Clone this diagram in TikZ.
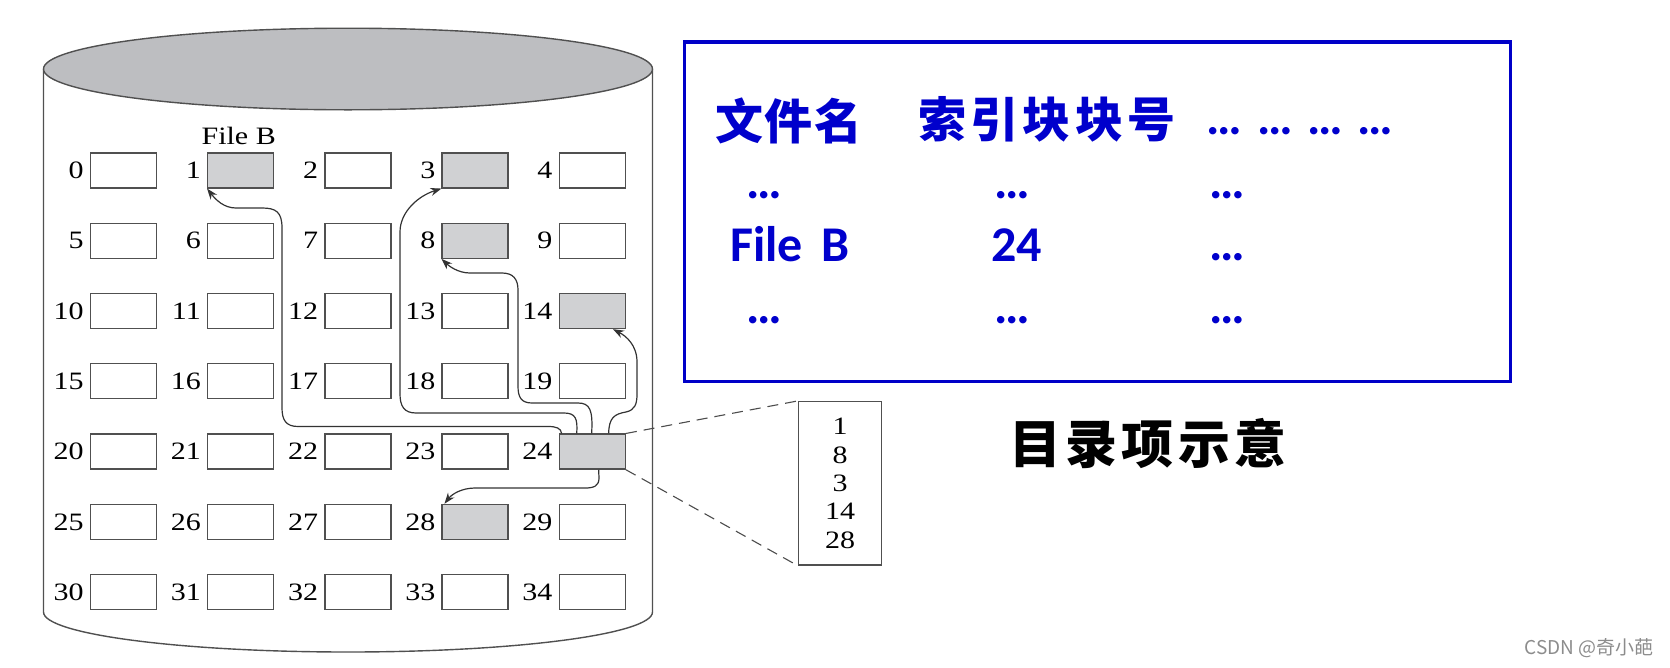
\documentclass[tikz,border=0pt]{standalone}
\usepackage{fontspec}
\setmainfont{Liberation Serif}
\newfontfamily\tnum[FakeStretch=1.2]{Liberation Serif}
\newfontfamily\calib{Carlito}
\newfontfamily\calibw[WordSpace=1.3]{Carlito}
\newfontfamily\cjk{Noto Sans CJK SC}
\newfontfamily\cjkls[LetterSpace=8]{Noto Sans CJK SC}
\usetikzlibrary{arrows.meta,calc}
\definecolor{panelblue}{RGB}{0,0,200}
\definecolor{textblue}{RGB}{0,0,204}
\definecolor{topgray}{RGB}{189,190,193}
\definecolor{blkgray}{RGB}{208,209,211}
\definecolor{edgegray}{RGB}{80,80,80}
\definecolor{wmgray}{RGB}{140,140,140}
\begin{document}
\begin{tikzpicture}[x=1pt,y=-1pt,
  blk/.style={draw=edgegray, line width=1.3pt, minimum width=66pt, minimum height=35pt, inner sep=0pt, fill=white},
  used/.style={blk, fill=blkgray},
  num/.style={anchor=east, inner sep=0pt, font=\tnum\fontsize{25}{28}\selectfont, text=black},
  conn/.style={draw=black!80, line width=1.2pt, -{Stealth[length=11pt,width=8pt]}},
  zoomline/.style={draw=black!70, line width=1.1pt, dash pattern=on 11pt off 7pt},
  ptext/.style={text=textblue, inner sep=0pt},
  dotsf/.style={ptext, anchor=base, font=\calib\bfseries\fontsize{50}{50}\selectfont},
  cjkh/.style={ptext, font=\cjk\bfseries\fontsize{48}{48}\selectfont},
]
\useasboundingbox (0,0) rectangle (1670,667);

% cylinder
\draw[draw=edgegray, line width=1.4pt] (43.5,69) -- (43.5,612)
  .. controls (43.5,634.1) and (179.8,652) .. (348,652)
  .. controls (516.2,652) and (652.5,634.1) .. (652.5,612) -- (652.5,69);
\draw[draw=edgegray, line width=1.4pt, fill=topgray] (348,69) ellipse [x radius=304.5, y radius=40.8];

% blocks
\foreach \r in {0,...,6} {
  \foreach \c in {0,...,4} {
    \pgfmathtruncatemacro\k{5*\r+\c}
    \pgfmathtruncatemacro\isused{(\k==1)||(\k==3)||(\k==8)||(\k==14)||(\k==24)||(\k==28)}
    \ifnum\isused=1 \def\st{used}\else\def\st{blk}\fi
    \node[\st] (b\k) at ({123.5+117.2*\c},{170.4+70.3*\r}) {};
    \node[num] (n\k) at ($(b\k.west)+(-6,0)$) {\k};
  }
}
\node[anchor=base, inner sep=0pt, font=\tnum\fontsize{25}{28}\selectfont] (fileB) at ($(b1.north)+(-2,-8)$) {File B};

% index block
\node[draw=edgegray, line width=1.3pt, minimum width=83pt, minimum height=163.5pt, inner sep=0pt,
      align=center, font=\tnum\fontsize{25}{28.3}\selectfont] (idx) at (840,483.3) {1\\8\\3\\14\\28};
\draw[zoomline] (b24.north east) -- (idx.north west);
\draw[zoomline] (b24.south east) -- (idx.south west);

% connectors
\draw[conn] ($(b24.north west)+(3,0)$) .. controls (561,428) and (556,426.5) .. (548,426.5)
  -- (298,426.5) .. controls (286,426.5) and (282,420) .. (282,408)
  -- (282,228) .. controls (282,212) and (276,208) .. (262,208)
  -- (236,208) .. controls (224,208) and (216,200) .. (b1.south west);
\draw[conn] ($(b24.north west)+(18,0)$) .. controls (578,418) and (575,413) .. (564,413)
  -- (416,413) .. controls (404,413) and (400,406) .. (400,394)
  -- (400,232) .. controls (400,212) and (418,196) .. (b3.south west);
\draw[conn] ($(b24.north west)+(33,0)$) .. controls (593,410) and (590,403) .. (578,403)
  -- (532,403) .. controls (521,403) and (518,397) .. (518,386)
  -- (518,290) .. controls (518,279) and (513,273) .. (502,273)
  -- (470,273) .. controls (458,273) and (449,266) .. (b8.south west);
\draw[conn] ($(b24.north west)+(50,0)$) .. controls (609,418) and (614,414) .. (626,412)
  .. controls (635,410) and (637,404) .. (637,394)
  -- (637,362) .. controls (637,345) and (626,336) .. ($(b14.south east)+(-13,0)$);
\draw[conn] ($(b24.south west)+(40,0)$) -- (599,478) .. controls (599,486) and (594,488) .. (585,488)
  -- (475,488) .. controls (462,488) and (452,494) .. ($(b28.north west)+(3,0)$);

% directory panel
\node[draw=panelblue, line width=3.5pt, minimum width=826pt, minimum height=339.5pt, inner sep=0pt] (panel) at (1097.6,211.7) {};
\node[cjkh, font=\cjk\bfseries\addfontfeature{LetterSpace=4}\fontsize{48}{48}\selectfont] (h1) at (789,121) {文件名};
\node[cjkh, font=\cjk\bfseries\addfontfeature{LetterSpace=9}\fontsize{48}{48}\selectfont] (h2) at (1047,119) {索引块块号};
\node[dotsf, font=\calibw\bfseries\fontsize{50}{50}\selectfont] (h3) at (1300,134.5) {… … … …};
\node[dotsf] (r2a) at (764,198) {…};
\node[dotsf] (r2b) at (1012,198) {…};
\node[dotsf] (r2c) at (1227,198) {…};
\node[dotsf] (fb) at (790,261.5) {File B};
\node[dotsf] (n24) at (1016.5,261.5) {24};
\node[dotsf] (r3c) at (1227,260.5) {…};
\node[dotsf] (r4a) at (764,323) {…};
\node[dotsf] (r4b) at (1012,323) {…};
\node[dotsf] (r4c) at (1227,323) {…};

\node[inner sep=0pt, font=\cjkls\bfseries\fontsize{52}{52}\selectfont] (cap) at (1148,443) {目录项示意};
\node[inner sep=0pt, text=wmgray, font=\cjk\fontsize{19}{19}\selectfont] (wm) at (1589,648) {CSDN @奇小葩};
\end{tikzpicture}
\end{document}
